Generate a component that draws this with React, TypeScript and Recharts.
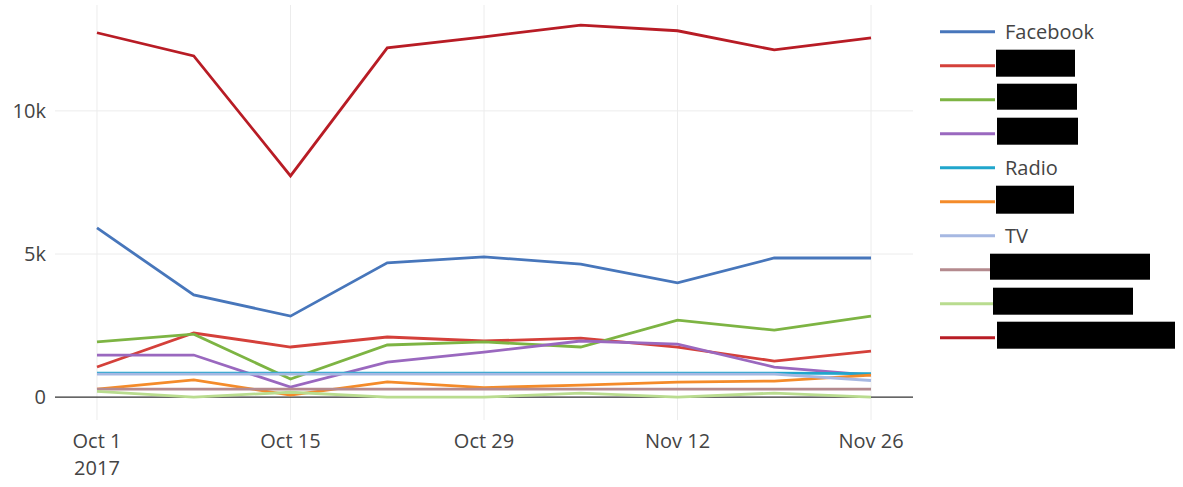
import { Line, LineChart, ReferenceLine, XAxis, YAxis } from 'recharts';

// weekly points, Oct 1 2017 .. Nov 26 2017
const weeks = [0, 1, 2, 3, 4, 5, 6, 7, 8];
const xTicks = [0, 2, 4, 6, 8];
const xTickLabels = [['Oct 1', '2017'], ['Oct 15'], ['Oct 29'], ['Nov 12'], ['Nov 26']];
const yTicks = [0, 5000, 10000];

const facebook = [5910, 3570, 2830, 4690, 4900, 4650, 3990, 4860, 4860];
const series2 = [1050, 2240, 1750, 2100, 1960, 2060, 1750, 1260, 1610];
const series3 = [1930, 2200, 630, 1820, 1930, 1750, 2690, 2340, 2830];
const series4 = [1470, 1470, 350, 1220, 1570, 1960, 1850, 1050, 770];
const radio = [840, 840, 840, 840, 840, 840, 840, 840, 820];
const series6 = [280, 600, 70, 530, 330, 420, 520, 560, 770];
const tv = [800, 800, 800, 800, 800, 800, 800, 800, 580];
const series8 = [280, 280, 280, 280, 280, 280, 280, 280, 280];
const series9 = [200, 0, 170, 0, 0, 140, 0, 140, 0];
const series10 = [12730, 11920, 7730, 12200, 12590, 13000, 12800, 12130, 12550];

const series = [
  { key: 'facebook', label: 'Facebook', values: facebook, color: '#4776bb', hidden: false },
  { key: 's2', label: 'Series 2', values: series2, color: '#d4403a', hidden: true },
  { key: 's3', label: 'Series 3', values: series3, color: '#7db443', hidden: true },
  { key: 's4', label: 'Series 4', values: series4, color: '#9a68bf', hidden: true },
  { key: 'radio', label: 'Radio', values: radio, color: '#21a6cc', hidden: false },
  { key: 's6', label: 'Series 6', values: series6, color: '#f48b2a', hidden: true },
  { key: 'tv', label: 'TV', values: tv, color: '#a6b8e2', hidden: false },
  { key: 's8', label: 'Series 8', values: series8, color: '#b48a8e', hidden: true },
  { key: 's9', label: 'Series 9', values: series9, color: '#b9dc8f', hidden: true },
  { key: 's10', label: 'Series 10', values: series10, color: '#b81c25', hidden: true },
];

// redaction boxes over the hidden legend names: [dx from line end, width, height]
const redactions: Record<string, [number, number, number]> = {
  s2: [1, 79, 27],
  s3: [2, 80, 26],
  s4: [2, 81, 27],
  s6: [1, 78, 28],
  s8: [-5, 160, 26],
  s9: [-2, 140, 27],
  s10: [2, 178, 27],
};

const data = weeks.map((w, i) => {
  const row: Record<string, number> = { w };
  series.forEach((s) => {
    row[s.key] = s.values[i];
  });
  return row;
});

const FONT = '"Open Sans", "DejaVu Sans", sans-serif';
const TEXT = '#444';
const GRID = '#ececec';

function XTick(props: any) {
  const { x, y, payload } = props;
  const lines = xTickLabels[xTicks.indexOf(payload.value)] || [];
  return (
    <text x={x} y={y + 28} textAnchor="middle" fill={TEXT} fontSize={20} fontFamily={FONT}>
      {lines.map((l, i) => (
        <tspan key={i} x={x} dy={i === 0 ? 0 : 27}>
          {l}
        </tspan>
      ))}
    </text>
  );
}

function ChartLegend() {
  return (
    <svg width={253} height={487} style={{ position: 'absolute', left: 930, top: 0 }}>
      {series.map((s, i) => {
        const cy = 31.7 + i * 34;
        const r = redactions[s.key];
        return (
          <g key={s.key}>
            <line x1={10} x2={65} y1={cy} y2={cy} stroke={s.color} strokeWidth={3} />
            {s.hidden && r ? (
              <rect x={65 + r[0]} y={cy - 16} width={r[1]} height={r[2]} fill="#000" />
            ) : (
              <text x={75} y={cy + 7} fill={TEXT} fontSize={20} fontFamily={FONT}>
                {s.label}
              </text>
            )}
          </g>
        );
      })}
    </svg>
  );
}

export default function App() {
  return (
    <div style={{ position: 'absolute', left: 0, top: 0, width: 1183, height: 487, background: '#fff' }}>
      <LineChart width={1183} height={487} data={data} margin={{ top: 5, right: 270, bottom: 0, left: 0 }}>
        <XAxis
          dataKey="w"
          type="number"
          domain={[-0.434, 8.434]}
          ticks={xTicks}
          allowDataOverflow
          axisLine={false}
          tickLine={false}
          tickSize={0}
          tickMargin={0}
          height={67}
          tick={<XTick />}
        />
        <YAxis
          type="number"
          domain={[-800, 13700]}
          ticks={yTicks}
          allowDataOverflow
          width={55}
          axisLine={false}
          tickLine={false}
          tickSize={0}
          tickMargin={9}
          tickFormatter={(v: number) => (v === 0 ? '0' : `${v / 1000}k`)}
          tick={{ fill: TEXT, fontSize: 20, fontFamily: FONT }}
        />
        {xTicks.map((t) => (
          <ReferenceLine key={`vx${t}`} x={t} stroke={GRID} strokeWidth={1} />
        ))}
        {yTicks
          .filter((t) => t !== 0)
          .map((t) => (
            <ReferenceLine key={`hy${t}`} y={t} stroke={GRID} strokeWidth={1} />
          ))}
        <ReferenceLine y={0} stroke="#333" strokeWidth={1.3} />
        {series.map((s) => (
          <Line
            key={s.key}
            type="linear"
            dataKey={s.key}
            name={s.label}
            stroke={s.color}
            strokeWidth={2.8}
            dot={false}
            activeDot={false}
            isAnimationActive={false}
          />
        ))}
      </LineChart>
      <ChartLegend />
    </div>
  );
}
